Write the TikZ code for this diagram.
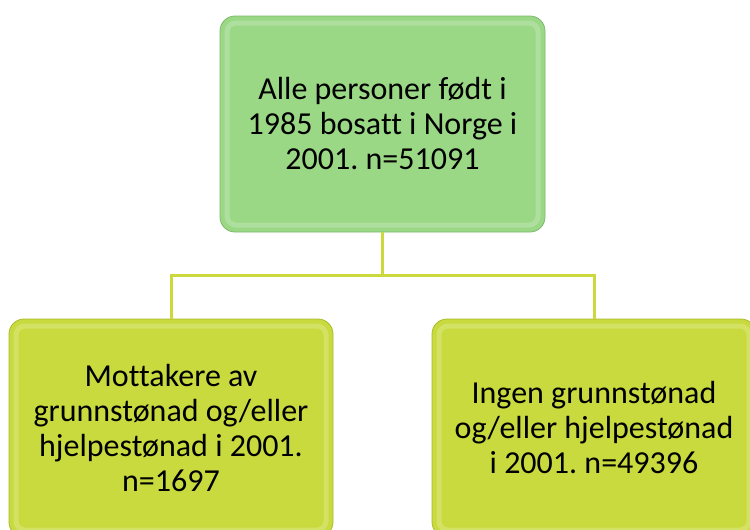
\documentclass[tikz,border=0pt]{standalone}
\usepackage{fontspec}
\setmainfont{Carlito}[Ligatures=NoCommon]
\usetikzlibrary{positioning}
\definecolor{topgreen}{HTML}{9AD886}
\definecolor{topedge}{HTML}{7FB86C}
\definecolor{subyellow}{HTML}{C8DA3E}
\definecolor{subedge}{HTML}{A9BA2A}
\definecolor{linkline}{HTML}{CCD93C}
\tikzstyle{rim} = [path picture={\draw[white,opacity=0.2,line width=5pt,rounded corners=9pt]
    ([shift={(7pt,7pt)}]path picture bounding box.south west) rectangle
    ([shift={(-7pt,-7pt)}]path picture bounding box.north east);}]
\tikzstyle{topbox} = [rectangle, draw=topedge, fill=topgreen, rim, line width=0.8pt,
    minimum width=325pt, minimum height=216pt, rounded corners=15pt, align=center,
    font=\fontsize{32}{35}\selectfont]
\tikzstyle{subbox} = [rectangle, draw=subedge, fill=subyellow, rim, line width=0.8pt,
    minimum width=324pt, minimum height=218pt, rounded corners=15pt, align=center,
    font=\fontsize{32}{35}\selectfont]

\begin{document}
\frenchspacing
\begin{tikzpicture}[x=1pt,y=1pt,line width=3pt,node distance=304pt]
  \useasboundingbox (0,0) rectangle (750,-530);
  \begin{scope}
  \clip (0,0) rectangle (750,-530);
  \node[topbox] (top) at (382.5,-124) {Alle personer født i\\1985 bosatt i Norge i\\2001. n=51091};
  \node[subbox, below of=top, xshift=-211.5pt] (left) {Mottakere av\\grunnstønad og/eller\\hjelpestønad i 2001.\\n=1697};
  \node[subbox, below of=top, xshift=211.5pt] (right) {Ingen grunnstønad\\og/eller hjelpestønad\\i 2001. n=49396};
  \coordinate[below of=top, node distance=151pt] (split);

  \draw[linkline] (top) -- (split);
  \draw[linkline] (split) -| (left);
  \draw[linkline] (split) -| (right);
  \end{scope}
\end{tikzpicture}
\end{document}
